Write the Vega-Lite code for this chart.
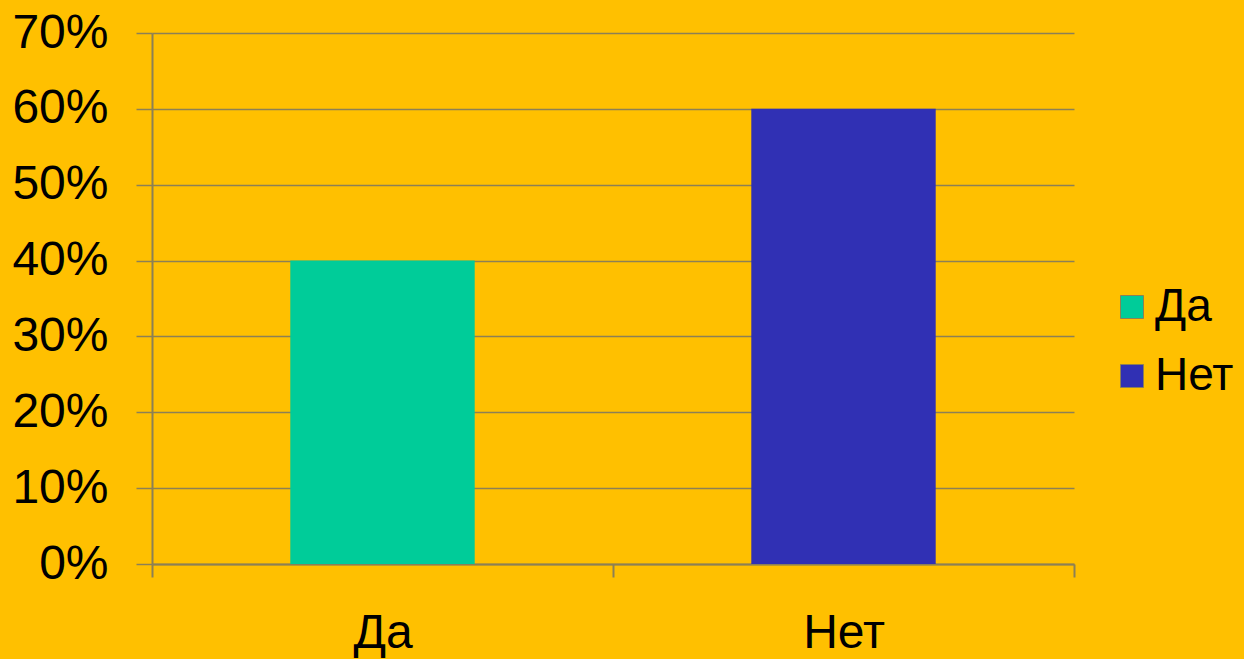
{
  "$schema": "https://vega.github.io/schema/vega-lite/v6.json",
  "autosize": {"type": "none"},
  "padding": {"left": 152, "top": 33, "right": 170, "bottom": 95},
  "width": 922,
  "height": 531,
  "background": "#FFC000",
  "config": {
    "view": {"stroke": null},
    "font": "Liberation Sans"
  },
  "data": {
    "values": [
      {"answer": "Да", "share": 0.4},
      {"answer": "Нет", "share": 0.6}
    ]
  },
  "mark": {"type": "bar", "width": {"band": 0.4}},
  "encoding": {
    "x": {
      "field": "answer",
      "type": "nominal",
      "sort": ["Да", "Нет"],
      "scale": {"paddingInner": 0, "paddingOuter": 0},
      "axis": {
        "title": null,
        "labelAngle": 0,
        "labelFont": "Liberation Sans",
        "labelFontSize": 48,
        "labelColor": "#000000",
        "labelPadding": 32,
        "tickBand": "extent",
        "tickSize": 13,
        "tickWidth": 2,
        "tickColor": "#8C8055",
        "domainColor": "#8C8055",
        "domainWidth": 2,
        "grid": false
      }
    },
    "y": {
      "field": "share",
      "type": "quantitative",
      "scale": {"domain": [0, 0.7], "nice": false},
      "axis": {
        "title": null,
        "values": [0, 0.1, 0.2, 0.3, 0.4, 0.5, 0.6, 0.7],
        "format": ".0%",
        "labelFont": "Liberation Sans",
        "labelFontSize": 48,
        "labelColor": "#000000",
        "labelPadding": 28,
        "tickSize": 16,
        "tickWidth": 1.5,
        "tickColor": "#8C8055",
        "domainColor": "#8C8055",
        "domainWidth": 2,
        "grid": true,
        "gridColor": "#8C8055",
        "gridWidth": 1.5
      }
    },
    "color": {
      "field": "answer",
      "type": "nominal",
      "sort": ["Да", "Нет"],
      "scale": {"domain": ["Да", "Нет"], "range": ["#00CC99", "#3030B4"]},
      "legend": {
        "title": null,
        "orient": "none",
        "legendX": 957,
        "legendY": 251,
        "padding": 0,
        "symbolType": "square",
        "symbolSize": 529,
        "symbolStrokeColor": "#8C8055",
        "symbolStrokeWidth": 1,
        "labelFont": "Liberation Sans",
        "labelFontSize": 46,
        "labelColor": "#000000",
        "labelOffset": 0,
        "rowPadding": 23
      }
    }
  }
}
